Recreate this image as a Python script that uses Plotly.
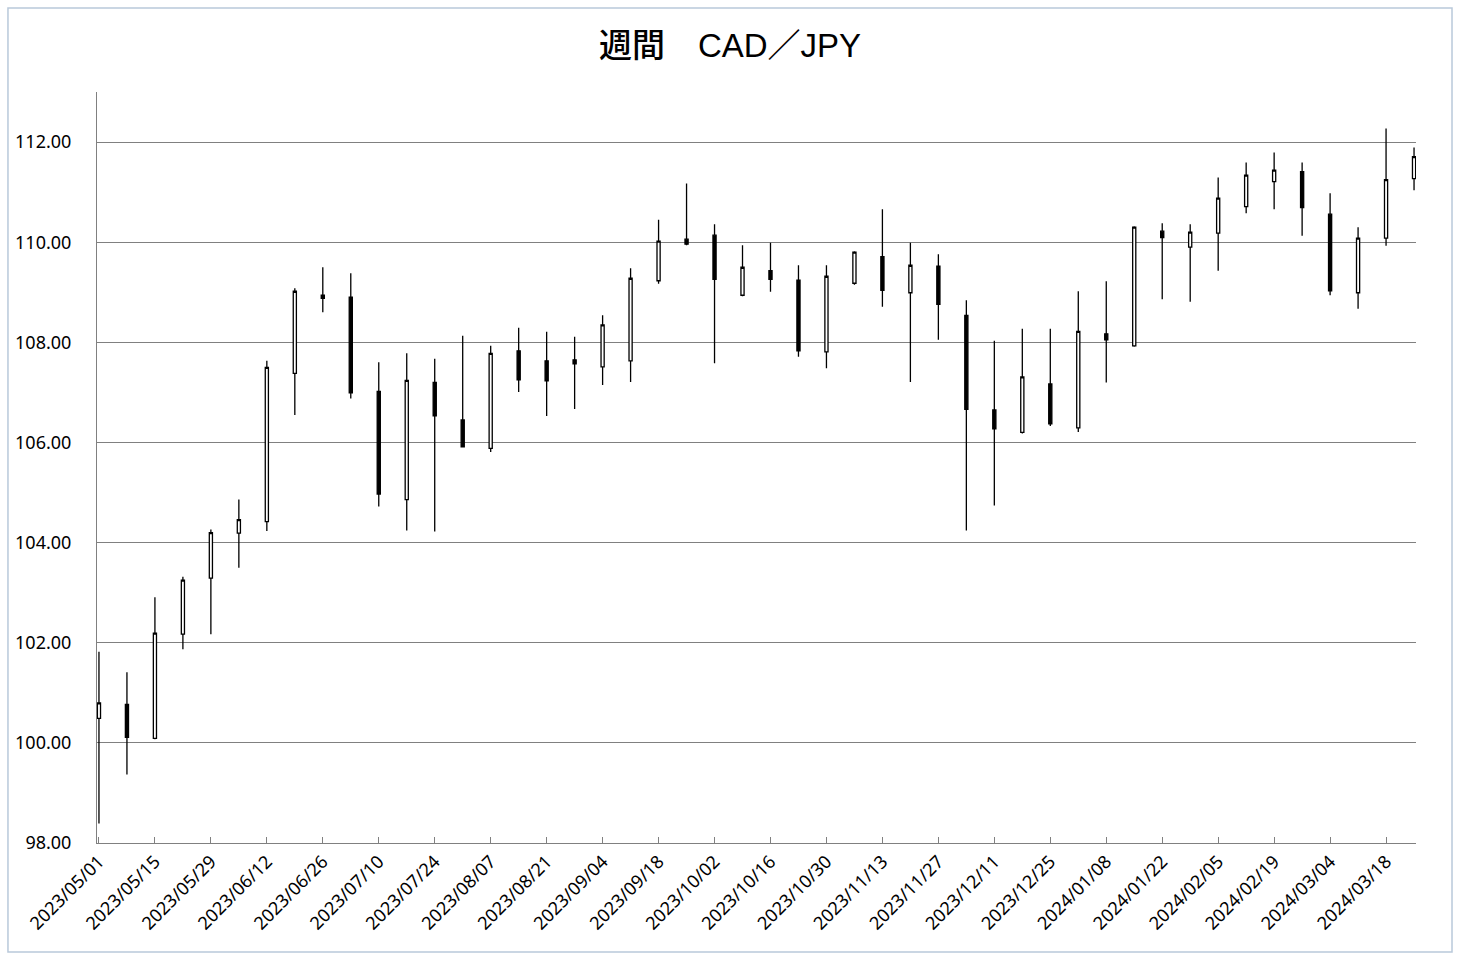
import pandas as pd
import plotly.graph_objects as go

weeks = [d.strftime("%Y/%m/%d") for d in pd.date_range("2023-05-01", periods=48, freq="7D")]

opens = [100.49, 100.77, 100.09, 102.17, 103.29, 104.19, 104.42, 107.38, 108.94, 108.90,
         107.02, 104.86, 107.20, 106.45, 105.88, 107.83, 107.63, 107.65, 107.51, 107.63,
         109.23, 110.06, 110.14, 108.94, 109.43, 109.24, 107.81, 109.18, 109.71, 108.99,
         109.52, 108.54, 106.65, 106.20, 107.17, 106.29, 108.17, 107.93, 110.22, 109.90,
         110.18, 110.71, 111.21, 111.41, 110.56, 108.99, 110.08, 111.27]
highs = [101.82, 101.41, 102.91, 103.32, 104.26, 104.86, 107.63, 109.08, 109.50, 109.38,
         107.60, 107.78, 107.67, 108.13, 107.93, 108.29, 108.21, 108.11, 108.54, 109.48,
         110.45, 111.17, 110.36, 109.94, 109.99, 109.54, 109.54, 109.82, 110.66, 109.99,
         109.76, 108.84, 108.03, 108.27, 108.27, 109.02, 109.22, 110.32, 110.38, 110.36,
         111.29, 111.59, 111.79, 111.59, 110.98, 110.30, 112.27, 111.89]
lows = [98.39, 99.37, 100.07, 101.87, 102.17, 103.50, 104.23, 106.55, 108.60, 106.88,
        104.72, 104.24, 104.22, 105.90, 105.81, 107.01, 106.53, 106.67, 107.15, 107.21,
        109.17, 109.94, 107.58, 108.92, 109.01, 107.71, 107.48, 109.15, 108.71, 107.21,
        108.05, 104.24, 104.74, 106.18, 106.33, 106.21, 107.20, 107.91, 108.86, 108.81,
        109.43, 110.58, 110.66, 110.13, 108.94, 108.67, 109.93, 111.04]
closes = [100.80, 100.11, 102.19, 103.25, 104.20, 104.46, 107.50, 109.02, 108.88, 106.99,
          104.97, 107.24, 106.53, 105.91, 107.78, 107.25, 107.23, 107.57, 108.35, 109.28,
          110.02, 109.96, 109.26, 109.50, 109.26, 107.83, 109.32, 109.80, 109.04, 109.54,
          108.76, 106.66, 106.27, 107.31, 106.37, 108.22, 108.05, 110.30, 110.09, 110.20,
          110.88, 111.34, 111.44, 110.69, 109.03, 110.08, 111.25, 111.71]

tick_labels = weeks[::2]
y_ticks = [98, 100, 102, 104, 106, 108, 110, 112]

fig = go.Figure()
fig.add_trace(go.Candlestick(
    x=weeks, open=opens, high=highs, low=lows, close=closes,
    increasing=dict(line=dict(color="black", width=1.3), fillcolor="white"),
    decreasing=dict(line=dict(color="black", width=1.3), fillcolor="black"),
    whiskerwidth=0, showlegend=False, hoverinfo="x+y",
))

fig.update_layout(
    width=1460, height=960,
    paper_bgcolor="white", plot_bgcolor="white",
    margin=dict(l=97, r=44, t=92, b=117),
    boxgap=0.84,
    title=dict(text="週間　CAD／JPY", x=0.5, xanchor="center", y=0.953, yanchor="middle",
               font=dict(family="Liberation Sans, Noto Sans CJK JP", size=33, color="black", weight=500)),
    font=dict(family="Noto Sans, Liberation Sans, sans-serif", size=18, color="black"),
    xaxis=dict(
        type="category", range=[-0.07, 47.07],
        rangeslider=dict(visible=False),
        tickmode="array", tickvals=tick_labels, ticktext=tick_labels,
        tickangle=-45, ticks="inside", ticklen=6, tickcolor="#808080",
        showgrid=False, showline=True, linecolor="#808080", linewidth=1,
        tickfont=dict(size=18, color="black"), zeroline=False,
    ),
    yaxis=dict(
        range=[98, 113], tickvals=y_ticks, tickformat=".2f",
        showgrid=True, gridcolor="#808080", gridwidth=1,
        showline=True, linecolor="#808080", linewidth=1,
        ticks="", ticklabelstandoff=21,
        tickfont=dict(size=18, color="black"), zeroline=False,
    ),
    shapes=[dict(type="rect", xref="paper", yref="paper",
                 x0=-0.0675, x1=1.0273, y0=-0.145, y1=1.112,
                 line=dict(color="#b9c9da", width=1.5), fillcolor="rgba(0,0,0,0)", layer="below")],
)

fig.write_html("out.html")
